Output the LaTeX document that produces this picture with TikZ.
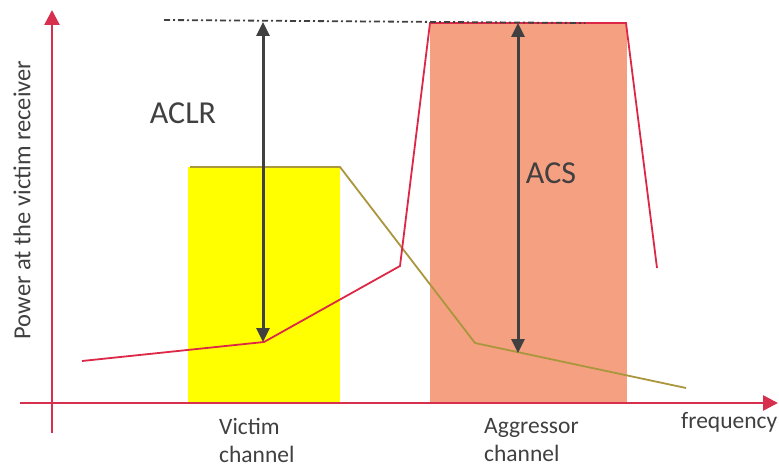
\documentclass[tikz,border=0pt]{standalone}
\usepackage{fontspec}
\setmainfont{Carlito}
\usetikzlibrary{arrows.meta}
\definecolor{axred}{RGB}{214,48,78}
\definecolor{curvered}{RGB}{220,40,70}
\definecolor{salmon}{RGB}{246,160,130}
\definecolor{olive}{RGB}{170,150,60}
\definecolor{darkg}{RGB}{64,64,64}
\definecolor{yel}{RGB}{255,255,0}
\tikzset{
  axis/.style={draw=axred,line width=2.6pt,-{Triangle[length=15pt,width=15pt]}},
  meas/.style={draw=darkg,line width=3pt,{Triangle[length=14pt,width=13pt]}-{Triangle[length=14pt,width=13pt]}},
  lbl/.style={text=darkg,font=\fontsize{32}{34}\selectfont,inner sep=0pt},
  small/.style={text=darkg,font=\fontsize{23.5}{28}\selectfont,inner sep=0pt,align=left},
  emis/.style={draw=curvered,line width=1.8pt,line join=miter},
  sel/.style={draw=olive,line width=1.8pt},
}
\begin{document}
\begin{tikzpicture}[x=1pt,y=-1pt]
\useasboundingbox (0,0) rectangle (779,468);
% channels
\fill[yel] (188,167) rectangle (340,403);
\fill[salmon] (430,23) rectangle (627,403);
% coordinates
\coordinate (ya0) at (52,433);
\coordinate (ya1) at (52,10);
\coordinate (xa0) at (20,403);
\coordinate (xa1) at (778,403);
\coordinate (e1) at (82,361);
\coordinate (e2) at (264,342);
\coordinate (e3) at (400,266);
\coordinate (e4) at (430,23);
\coordinate (e5) at (626,23);
\coordinate (e6) at (657,268);
\coordinate (s1) at (190,167);
\coordinate (s2) at (340,167);
\coordinate (s3) at (475,343);
\coordinate (s4) at (686,388);
\coordinate (d1) at (164,20);
\coordinate (d2) at (585,23);
\coordinate (aclrT) at (263,22);
\coordinate (aclrB) at (263,342);
\coordinate (acsT) at (518,23);
\coordinate (acsB) at (518,353);
% selectivity and emission
\draw[sel] (s1) -- (s2) -- (s3) -- (s4);
\draw[emis] (e1) -- (e2) -- (e3) -- (e4) -- (e5) -- (e6);
% dash-dot reference
\draw[darkg,line width=1.8pt,dash pattern=on 6pt off 3pt on 2pt off 3pt] (d1) -- (d2);
% axes
\draw[axis] (ya0) -- (ya1);
\draw[axis] (xa0) -- (xa1);
% measurement arrows
\draw[meas] (aclrB) -- (aclrT);
\draw[meas] (acsB) -- (acsT);
% labels
\node[lbl] (aclr) at (183,113) {ACLR};
\node[lbl] (acs) at (551,173) {ACS};
\node[small,anchor=north west] (vic) at (219,418) {Victim\\channel};
\node[small,anchor=north west] (agg) at (484,418) {Aggressor\\channel};
\node[small,anchor=north west] (freq) at (681,412) {frequency};
\node[small,font=\fontsize{24.5}{28}\selectfont,rotate=90] (pow) at (22,200) {Power at the victim receiver};
\end{tikzpicture}
\end{document}
